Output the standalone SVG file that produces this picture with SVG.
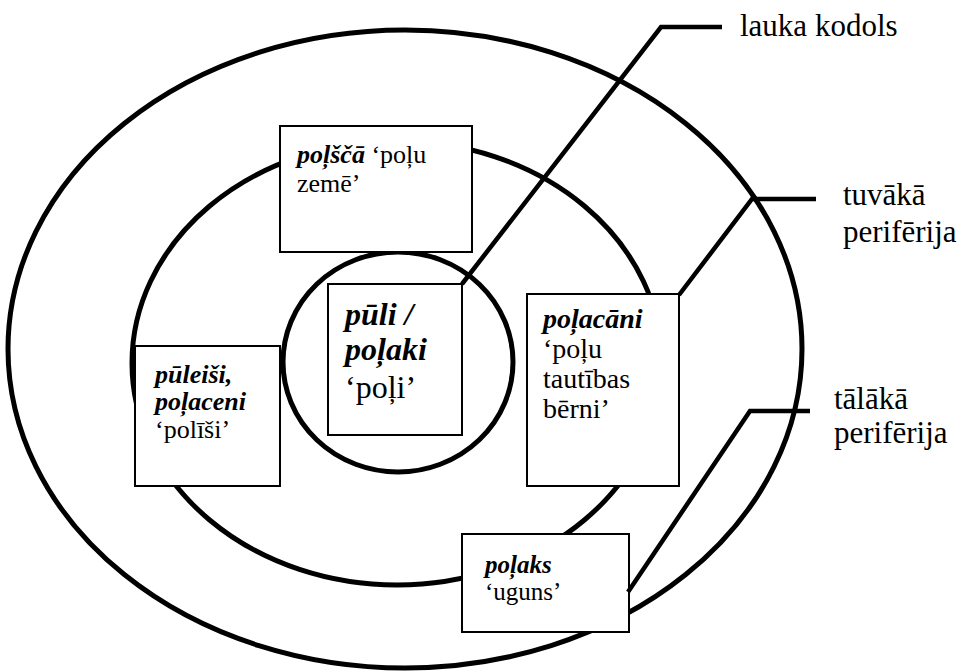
<svg xmlns="http://www.w3.org/2000/svg" width="963" height="672" viewBox="0 0 963 672">
<style>
.ring{fill:none;stroke:#000;stroke-width:5}
.box{fill:#fff;stroke:#000;stroke-width:2}
.conn{fill:none;stroke:#000;stroke-width:4.5;stroke-linejoin:miter}
.t{font-weight:bold;font-style:italic}
.lbl{font-size:31px}
</style>
<rect width="963" height="672" fill="#fff"/>
<g id="ring-outer"><ellipse class="ring" cx="405" cy="349" rx="397" ry="319"/></g>
<g id="ring-middle"><ellipse class="ring" cx="397" cy="363" rx="265" ry="222"/></g>
<g id="ring-inner"><ellipse class="ring" cx="398" cy="362" rx="115" ry="110"/></g>

<g font-family="'Liberation Serif', 'Times New Roman', serif" fill="#000">
<g id="node-polsca">
<rect class="box" x="280" y="126" width="192" height="126"/>
<text x="297" y="163" font-size="26"><tspan class="t">poļščā</tspan> ‘poļu</text>
<text x="297" y="192" font-size="26">zemē’</text>
</g>
<g id="node-puli">
<rect class="box" x="328" y="284" width="134" height="151"/>
<text x="345" y="325" font-size="32" class="t">pūli /</text>
<text x="345" y="360" font-size="32" class="t">poļaki</text>
<text x="345" y="398" font-size="32">‘poļi’</text>
</g>
<g id="node-puleisi">
<rect class="box" x="135" y="346" width="145" height="140"/>
<text x="155" y="383" font-size="26" class="t">pūleiši,</text>
<text x="155" y="410" font-size="26" class="t">poļaceni</text>
<text x="155" y="438" font-size="26">‘polīši’</text>
</g>
<g id="node-polacani">
<rect class="box" x="527" y="294" width="152" height="192"/>
<text x="543" y="328" font-size="28" class="t">poļacāni</text>
<text x="543" y="358" font-size="28">‘poļu</text>
<text x="543" y="388" font-size="28">tautības</text>
<text x="543" y="418" font-size="28">bērni’</text>
</g>
<g id="node-polaks">
<rect class="box" x="462" y="534" width="167" height="98"/>
<text x="485" y="573" font-size="25" class="t">poļaks</text>
<text x="485" y="600" font-size="25">‘uguns’</text>
</g>

<g id="connectors">
<polyline class="conn" points="462,284 661,27 722,27"/>
<polyline class="conn" points="679,295 752,199 816,199"/>
<polyline class="conn" points="628,592 750,411 810,411"/>
</g>

<g id="label-kodols"><text class="lbl" x="740" y="36">lauka kodols</text></g>
<g id="label-tuvaka">
<text class="lbl" x="843" y="205">tuvākā</text>
<text class="lbl" x="843" y="242">perifērija</text>
</g>
<g id="label-talaka">
<text class="lbl" x="834" y="409">tālākā</text>
<text class="lbl" x="834" y="443">perifērija</text>
</g>
</g>
</svg>
